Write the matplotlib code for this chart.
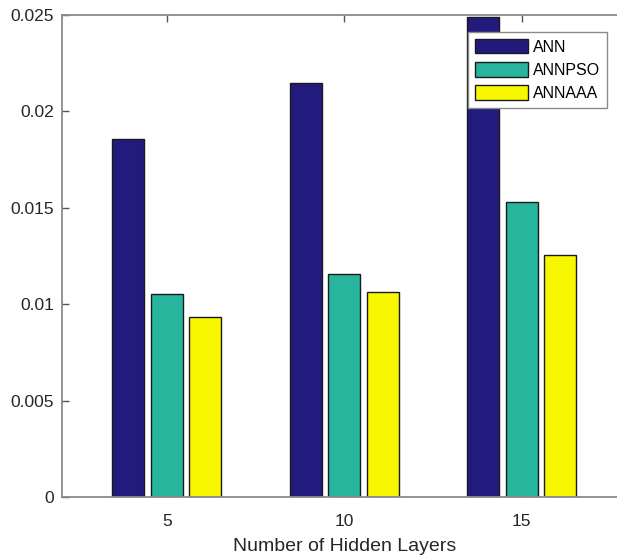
import matplotlib
matplotlib.use("Agg")
import matplotlib.pyplot as plt
import numpy as np

categories = ["5", "10", "15"]
series_names = ["ANN", "ANNPSO", "ANNAAA"]
ann = [0.01857, 0.02146, 0.0249]
annpso = [0.01051, 0.01157, 0.01530]
annaaa = [0.00935, 0.01065, 0.01255]
yticks = [0, 0.005, 0.01, 0.015, 0.02, 0.025]
ytick_labels = ["0", "0.005", "0.01", "0.015", "0.02", "0.025"]
colors = ["#221A7D", "#27B59E", "#F7F700"]

plt.rcParams['font.family'] = ['Liberation Sans', 'DejaVu Sans']

W, H = 617, 556
fig = plt.figure(figsize=(W / 100, H / 100), dpi=100)
ax = fig.add_axes([62 / W, (H - 497) / H, 564.5 / W, 482 / H])

x = np.arange(1, len(categories) + 1)
offset = 0.218
width = 0.18
for i, (vals, name, c) in enumerate(zip([ann, annpso, annaaa], series_names, colors)):
    ax.bar(x + (i - 1) * offset, vals, width, color=c, edgecolor="#1a1a1a",
           linewidth=1.0, label=name, zorder=2)

ax.set_xlim(0.41, 3.59)
ax.set_ylim(0, 0.025)
ax.set_xticks(x)
ax.set_xticklabels(categories)
ax.set_yticks(yticks)
ax.set_yticklabels(ytick_labels)
ax.tick_params(axis="both", direction="in", length=5, width=1, color="#555555",
               labelsize=12.5, labelcolor="#262626", top=True, right=True)
ax.tick_params(axis="y", pad=5.5)
ax.tick_params(axis="x", pad=12)
for s in ax.spines.values():
    s.set_color("#8a8a8a")
    s.set_linewidth(1.3)
ax.set_xlabel("Number of Hidden Layers", fontsize=14, color="#262626", labelpad=7)

leg = ax.legend(loc="upper right", bbox_to_anchor=(607 / W, 1 - 32 / H),
                bbox_transform=fig.transFigure, borderaxespad=0, fontsize=11.5,
                handlelength=3.3, handleheight=1.0, handletextpad=0.3,
                labelspacing=0.47, borderpad=0.45, fancybox=False, framealpha=1,
                edgecolor="#8a8a8a")
leg.get_frame().set_linewidth(1.0)

fig.savefig("out.png", dpi=100)
